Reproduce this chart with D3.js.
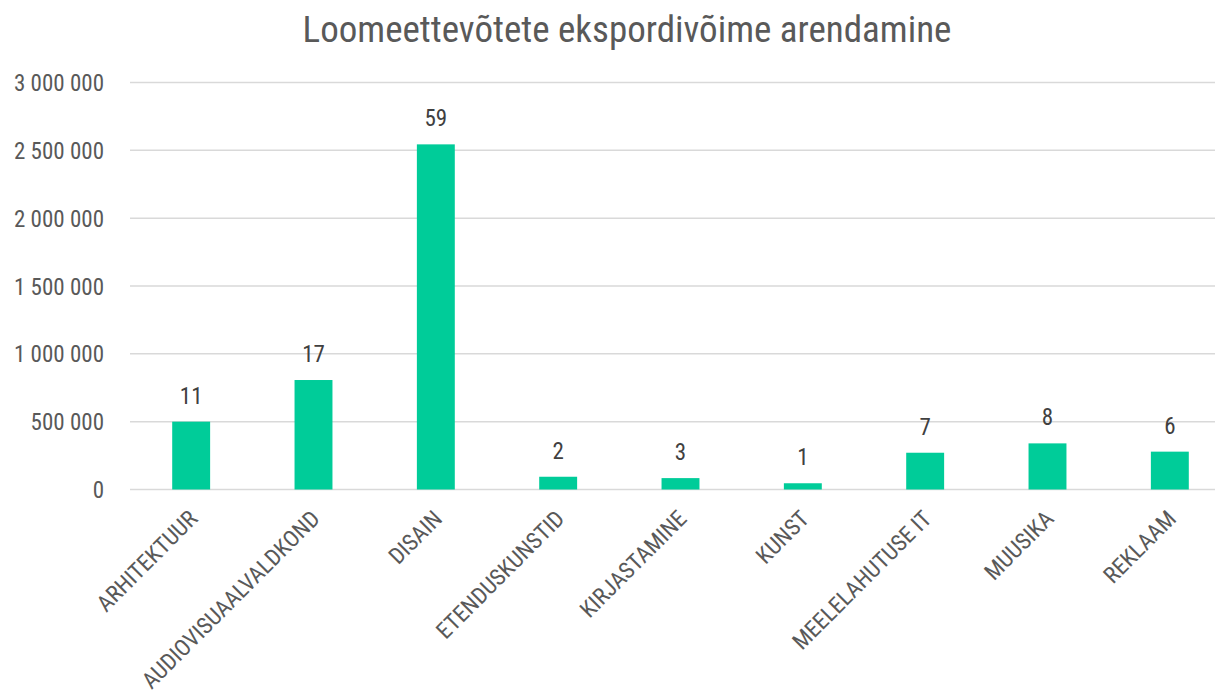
<!DOCTYPE html>
<html>
<head>
<meta charset="utf-8">
<script src="https://cdn.jsdelivr.net/npm/d3@7"></script>
<style>
  body { margin: 0; background: #fff; }
  svg text { font-family: "Roboto Condensed", "Liberation Sans Narrow", Roboto, sans-serif; }
</style>
</head>
<body>
<script>
const TITLE = "Loomeettevõtete ekspordivõime arendamine";
const categories = ["ARHITEKTUUR", "AUDIOVISUAALVALDKOND", "DISAIN", "ETENDUSKUNSTID",
  "KIRJASTAMINE", "KUNST", "MEELELAHUTUSE IT", "MUUSIKA", "REKLAAM"];
const amounts = [500000, 807000, 2544000, 94000, 84000, 46000, 271000, 340000, 279000];
const counts = [11, 17, 59, 2, 3, 1, 7, 8, 6];
const yTicks = [0, 500000, 1000000, 1500000, 2000000, 2500000, 3000000];

const WIDTH = 1215;
const HEIGHT = 699;
const LEFT = 130;
const RIGHT = 1231;
const TOP = 82.5;
const BOTTOM = 489.5;

const fmt = d3.formatLocale({decimal: ",", thousands: " ", grouping: [3], currency: ["", ""]}).format(",");

const svg = d3.select("body")
  .append("svg")
  .attr("width", WIDTH)
  .attr("height", HEIGHT);

const x = d3.scaleBand()
  .domain(categories)
  .range([LEFT, RIGHT])
  .paddingInner(0.69)
  .paddingOuter(0.345);

const y = d3.scaleLinear()
  .domain([0, 3000000])
  .range([BOTTOM, TOP]);

// gridlines
svg.append("g")
  .selectAll("line")
  .data(yTicks)
  .enter()
  .append("line")
  .attr("x1", LEFT)
  .attr("x2", WIDTH)
  .attr("y1", d => y(d))
  .attr("y2", d => y(d))
  .attr("stroke", "#d9d9d9")
  .attr("stroke-width", 1.5);

// y axis labels
const yAxis = d3.axisLeft(y).tickValues(yTicks).tickFormat(fmt).tickSize(0).tickPadding(0);
svg.append("g")
  .attr("transform", "translate(104,0)")
  .call(yAxis)
  .call(g => g.select(".domain").remove())
  .selectAll("text")
  .attr("fill", "#595959")
  .attr("font-size", 23)
  .attr("dy", "0.35em");

// bars
svg.append("g")
  .selectAll("rect")
  .data(categories)
  .enter()
  .append("rect")
  .attr("x", d => x(d))
  .attr("y", (d, i) => y(amounts[i]))
  .attr("width", x.bandwidth())
  .attr("height", (d, i) => y(0) - y(amounts[i]))
  .attr("fill", "#00cc99");

// count labels
svg.append("g")
  .selectAll("text")
  .data(categories)
  .enter()
  .append("text")
  .attr("x", d => x(d) + x.bandwidth() / 2)
  .attr("y", (d, i) => y(amounts[i]) - 18)
  .attr("text-anchor", "middle")
  .attr("font-size", 23)
  .attr("fill", "#404040")
  .text((d, i) => counts[i]);

// x axis labels
const xAxis = d3.axisBottom(x).tickSize(0).tickPadding(0);
svg.append("g")
  .attr("transform", `translate(0,${BOTTOM})`)
  .call(xAxis)
  .call(g => g.select(".domain").remove())
  .selectAll("text")
  .attr("fill", "#595959")
  .attr("font-size", 23)
  .attr("text-anchor", "end")
  .attr("transform", "translate(2,25) rotate(-45)")
  .attr("dy", "0.35em")
  .attr("y", 0)
  .attr("x", 0);

svg.append("text")
  .attr("x", 627)
  .attr("y", 42)
  .attr("text-anchor", "middle")
  .attr("font-size", 37)
  .attr("fill", "#595959")
  .text(TITLE);
</script>
</body>
</html>
